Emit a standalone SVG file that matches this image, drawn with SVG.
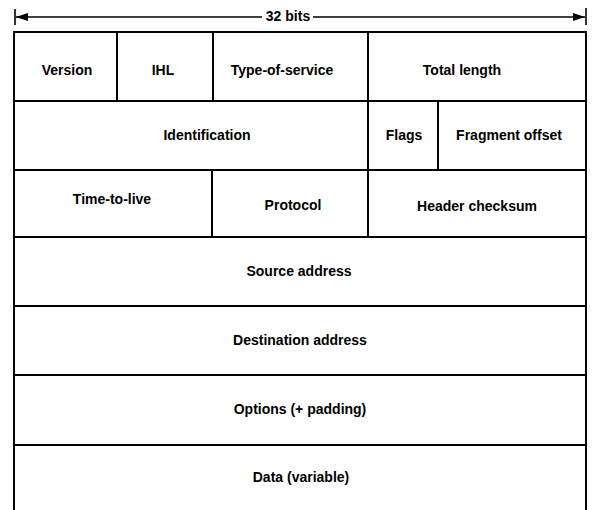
<svg xmlns="http://www.w3.org/2000/svg" width="596" height="510" viewBox="0 0 596 510">
  <style>
    .cell { fill: #ffffff; stroke: #000000; stroke-width: 2; }
    .lbl { font-family: "Liberation Sans", Arial, sans-serif; font-size: 14px; font-weight: bold; fill: #000000; text-anchor: middle; dominant-baseline: central; }
    .dim { stroke: #000000; stroke-width: 1.6; fill: none; }
  </style>
  <defs>
    <marker id="head" viewBox="0 0 12 10" refX="12" refY="5" markerWidth="12" markerHeight="10" markerUnits="userSpaceOnUse" orient="auto-start-reverse">
      <path d="M0,1 L12,5 L0,9 Z" fill="#000000"/>
    </marker>
  </defs>

  <rect width="596" height="510" fill="#ffffff"/>

  <!-- width dimension: 32 bits -->
  <g id="width-dimension">
    <line class="dim" x1="15" y1="9" x2="15" y2="25" stroke-width="2"/>
    <line class="dim" x1="586" y1="8" x2="586" y2="25" stroke-width="2"/>
    <line class="dim" x1="262" y1="17" x2="16" y2="17" marker-end="url(#head)"/>
    <line class="dim" x1="313" y1="17" x2="585" y2="17" marker-end="url(#head)"/>
    <text class="lbl" x="288" y="16" font-size="13">32 bits</text>
  </g>

  <!-- row 1 -->
  <g id="version">
    <rect class="cell" x="14" y="32" width="103" height="69"/>
    <text class="lbl" x="67" y="70">Version</text>
  </g>
  <g id="ihl">
    <rect class="cell" x="117" y="32" width="96" height="69"/>
    <text class="lbl" x="163" y="70">IHL</text>
  </g>
  <g id="type-of-service">
    <rect class="cell" x="213" y="32" width="155" height="69"/>
    <text class="lbl" x="282" y="70">Type-of-service</text>
  </g>
  <g id="total-length">
    <rect class="cell" x="368" y="32" width="218" height="69"/>
    <text class="lbl" x="462" y="70">Total length</text>
  </g>

  <!-- row 2 -->
  <g id="identification">
    <rect class="cell" x="14" y="101" width="354" height="69"/>
    <text class="lbl" x="207" y="135">Identification</text>
  </g>
  <g id="flags">
    <rect class="cell" x="368" y="101" width="70" height="69"/>
    <text class="lbl" x="404" y="135">Flags</text>
  </g>
  <g id="fragment-offset">
    <rect class="cell" x="438" y="101" width="148" height="69"/>
    <text class="lbl" x="509" y="135">Fragment offset</text>
  </g>

  <!-- row 3 -->
  <g id="time-to-live">
    <rect class="cell" x="14" y="170" width="198" height="67"/>
    <text class="lbl" x="112" y="199">Time-to-live</text>
  </g>
  <g id="protocol">
    <rect class="cell" x="212" y="170" width="156" height="67"/>
    <text class="lbl" x="293" y="205">Protocol</text>
  </g>
  <g id="header-checksum">
    <rect class="cell" x="368" y="170" width="218" height="67"/>
    <text class="lbl" x="477" y="206">Header checksum</text>
  </g>

  <!-- full-width rows -->
  <g id="source-address">
    <rect class="cell" x="14" y="237" width="572" height="69"/>
    <text class="lbl" x="299" y="271">Source address</text>
  </g>
  <g id="destination-address">
    <rect class="cell" x="14" y="306" width="572" height="69"/>
    <text class="lbl" x="300" y="340">Destination address</text>
  </g>
  <g id="options">
    <rect class="cell" x="14" y="375" width="572" height="70"/>
    <text class="lbl" x="300" y="409">Options (+ padding)</text>
  </g>
  <g id="data">
    <rect class="cell" x="14" y="445" width="572" height="80"/>
    <text class="lbl" x="301" y="477">Data (variable)</text>
  </g>
</svg>
